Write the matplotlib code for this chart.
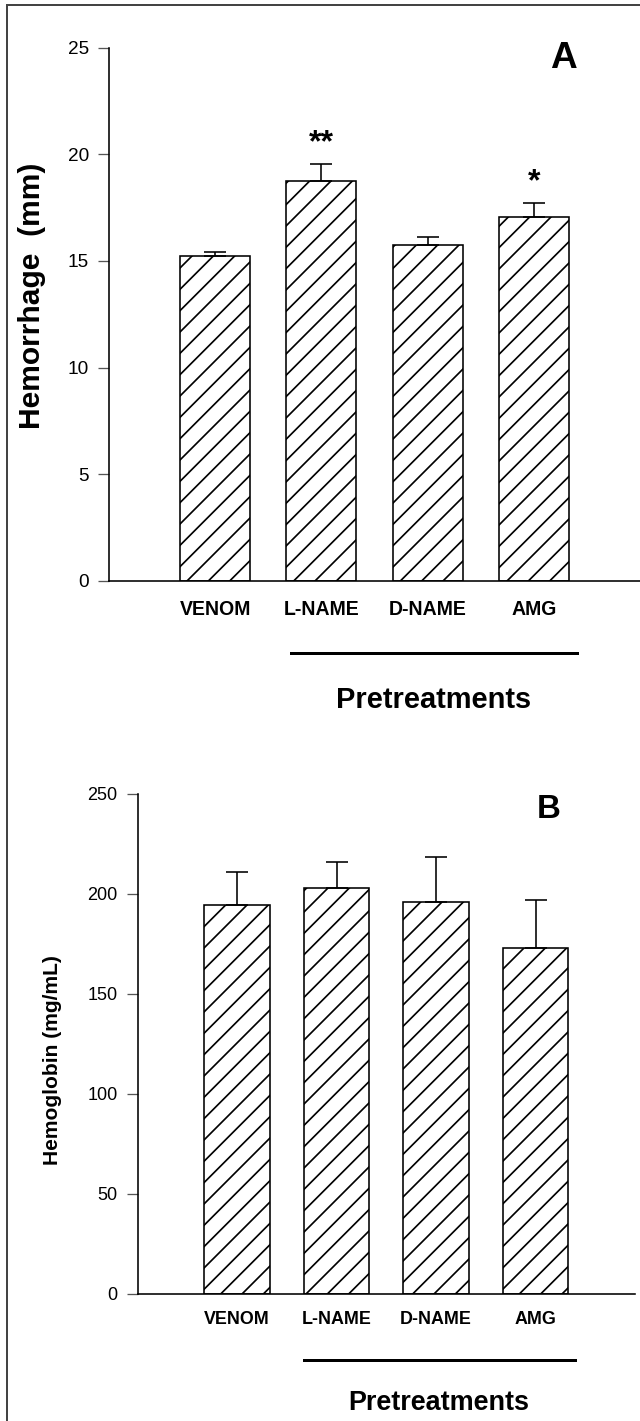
import matplotlib
matplotlib.use('Agg')
import matplotlib.pyplot as plt
from matplotlib import font_manager
from matplotlib.lines import Line2D
import numpy as np

# data
categories = ['VENOM', 'L-NAME', 'D-NAME', 'AMG']
hemorrhage = [15.25, 18.75, 15.75, 17.05]
hemorrhage_err = [0.19, 0.8, 0.39, 0.65]
hemorrhage_marks = ['', '**', '', '*']
hemoglobin = [194.4, 202.9, 196.2, 172.9]
hemoglobin_err = [16.6, 13.3, 22.5, 24.1]
y1_ticks = [0, 5, 10, 15, 20, 25]
y2_ticks = [0, 50, 100, 150, 200, 250]

W, H, DPI = 640, 1421, 128
PT = 72 / DPI  # points per pixel

names = {f.name for f in font_manager.fontManager.ttflist}
if 'Liberation Sans Narrow' in names:
    cat_family, cat_scale = 'Liberation Sans Narrow', 1.0
else:
    cat_family, cat_scale = 'Liberation Sans', 0.85

plt.rcParams['font.family'] = ['Liberation Sans', 'DejaVu Sans']
plt.rcParams['hatch.linewidth'] = 1.7 * PT
plt.rcParams['hatch.color'] = 'black'

fig = plt.figure(figsize=(W / DPI, H / DPI), dpi=DPI)


def fx(x):
    return x / W


def fy(y):
    return 1 - y / H


def make_panel(rect, values, errs, yticks, tick_px, cat_px, cat_pad, ylabel, ylabel_px, ylabel_xy):
    ax = fig.add_axes(rect)
    x = np.arange(len(categories))
    ax.bar(x, values, width=0.66, color='white', edgecolor='black', linewidth=1.6 * PT,
           hatch='//', zorder=2)
    ax.errorbar(x, values, yerr=[np.zeros(len(values)), errs], fmt='none', ecolor='black',
                elinewidth=1.6 * PT, capsize=5.5 * PT * 2, capthick=1.6 * PT, zorder=3)
    ax.set_xlim(-1, 4)
    ax.set_ylim(yticks[0], yticks[-1])
    ax.set_yticks(yticks)
    ax.set_xticks(x, categories)
    for s in ['top', 'right']:
        ax.spines[s].set_visible(False)
    for s in ['left', 'bottom']:
        ax.spines[s].set_linewidth(1.6 * PT)
    ax.tick_params(axis='y', direction='out', length=11 * PT, width=1.3 * PT, color='#555555',
                   labelsize=tick_px * PT, pad=9 * PT)
    ax.tick_params(axis='x', length=0, pad=cat_pad * PT)
    for lab in ax.get_xticklabels():
        lab.set_family(cat_family)
        lab.set_fontweight('bold')
        lab.set_fontsize(cat_px * cat_scale * PT)
    fig.text(fx(ylabel_xy[0]), fy(ylabel_xy[1]), ylabel, rotation=90, ha='center', va='center',
             fontsize=ylabel_px * PT, fontweight='bold')
    return ax


ax1 = make_panel([fx(109), fy(580.7), fx(640 - 109), (580.7 - 47.7) / H],
                 hemorrhage, hemorrhage_err, y1_ticks, 19, 23, 19,
                 'Hemorrhage  (mm)', 30, (32, 296))
for i, m in enumerate(hemorrhage_marks):
    if m:
        ax1.annotate(m, (i, hemorrhage[i] + hemorrhage_err[i]), xytext=(0, 13 * PT),
                     textcoords='offset points', ha='center', va='baseline',
                     fontsize=32 * PT, fontweight='bold')

ax2 = make_panel([fx(137.5), fy(1294), fx(635 - 137.5), 500 / H],
                 hemoglobin, hemoglobin_err, y2_ticks, 18, 21, 17,
                 'Hemoglobin (mg/mL)', 21, (53, 1060))

# panel letters
fig.text(fx(563), fy(58), 'A', ha='center', va='center', fontsize=37 * PT, fontweight='bold')
fig.text(fx(549), fy(809), 'B', ha='center', va='center', fontsize=33 * PT, fontweight='bold')

# "Pretreatments" bracket lines and titles
fig.add_artist(Line2D([fx(291), fx(577)], [fy(653), fy(653)], color='black', linewidth=3 * PT))
fig.add_artist(Line2D([fx(304), fx(575)], [fy(1360), fy(1360)], color='black', linewidth=3 * PT))
fig.text(fx(433.6), fy(708), 'Pretreatments', ha='center', va='baseline',
         fontsize=29 * PT, fontweight='bold')
fig.text(fx(439), fy(1410), 'Pretreatments', ha='center', va='baseline',
         fontsize=27 * PT, fontweight='bold')

# frame edges visible in the original scan
fig.add_artist(Line2D([fx(7), fx(7)], [fy(5), 0], color='#444444', linewidth=2 * PT))
fig.add_artist(Line2D([fx(7), 1], [fy(5), fy(5)], color='#444444', linewidth=2 * PT))

fig.savefig('out.png', dpi=DPI)
